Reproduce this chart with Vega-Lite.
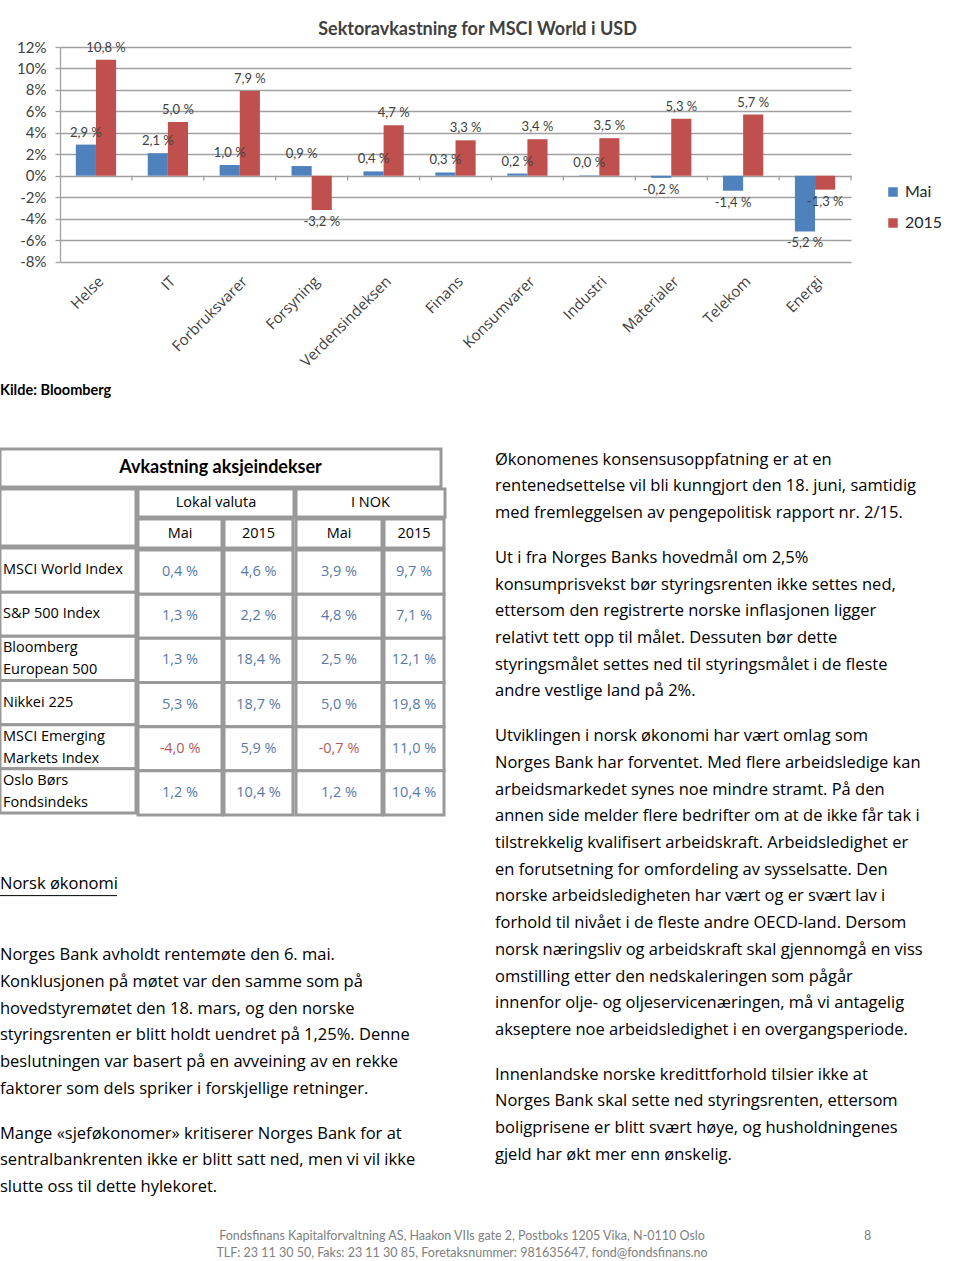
{
  "$schema": "https://vega.github.io/schema/vega-lite/v6.json",
  "background": "white",
  "padding": {"left": -2, "top": 21, "right": 0, "bottom": 0},
  "datasets": {
    "sek": [
      {"s": "Helse", "ser": "Mai", "v": 2.9, "l": "2,9 %"},
      {"s": "Helse", "ser": "2015", "v": 10.8, "l": "10,8 %"},
      {"s": "IT", "ser": "Mai", "v": 2.1, "l": "2,1 %"},
      {"s": "IT", "ser": "2015", "v": 5.0, "l": "5,0 %"},
      {"s": "Forbruksvarer", "ser": "Mai", "v": 1.0, "l": "1,0 %"},
      {"s": "Forbruksvarer", "ser": "2015", "v": 7.9, "l": "7,9 %"},
      {"s": "Forsyning", "ser": "Mai", "v": 0.9, "l": "0,9 %"},
      {"s": "Forsyning", "ser": "2015", "v": -3.2, "l": "-3,2 %"},
      {"s": "Verdensindeksen", "ser": "Mai", "v": 0.4, "l": "0,4 %"},
      {"s": "Verdensindeksen", "ser": "2015", "v": 4.7, "l": "4,7 %"},
      {"s": "Finans", "ser": "Mai", "v": 0.3, "l": "0,3 %"},
      {"s": "Finans", "ser": "2015", "v": 3.3, "l": "3,3 %"},
      {"s": "Konsumvarer", "ser": "Mai", "v": 0.2, "l": "0,2 %"},
      {"s": "Konsumvarer", "ser": "2015", "v": 3.4, "l": "3,4 %"},
      {"s": "Industri", "ser": "Mai", "v": 0.04, "l": "0,0 %"},
      {"s": "Industri", "ser": "2015", "v": 3.5, "l": "3,5 %"},
      {"s": "Materialer", "ser": "Mai", "v": -0.2, "l": "-0,2 %"},
      {"s": "Materialer", "ser": "2015", "v": 5.3, "l": "5,3 %"},
      {"s": "Telekom", "ser": "Mai", "v": -1.4, "l": "-1,4 %"},
      {"s": "Telekom", "ser": "2015", "v": 5.7, "l": "5,7 %"},
      {"s": "Energi", "ser": "Mai", "v": -5.2, "l": "-5,2 %"},
      {"s": "Energi", "ser": "2015", "v": -1.3, "l": "-1,3 %"}
    ],
    "tab": [
      {"r": 1, "c": "lm", "t": "0,4 %"}, {"r": 1, "c": "l2", "t": "4,6 %"}, {"r": 1, "c": "nm", "t": "3,9 %"}, {"r": 1, "c": "n2", "t": "9,7 %"},
      {"r": 2, "c": "lm", "t": "1,3 %"}, {"r": 2, "c": "l2", "t": "2,2 %"}, {"r": 2, "c": "nm", "t": "4,8 %"}, {"r": 2, "c": "n2", "t": "7,1 %"},
      {"r": 3, "c": "lm", "t": "1,3 %"}, {"r": 3, "c": "l2", "t": "18,4 %"}, {"r": 3, "c": "nm", "t": "2,5 %"}, {"r": 3, "c": "n2", "t": "12,1 %"},
      {"r": 4, "c": "lm", "t": "5,3 %"}, {"r": 4, "c": "l2", "t": "18,7 %"}, {"r": 4, "c": "nm", "t": "5,0 %"}, {"r": 4, "c": "n2", "t": "19,8 %"},
      {"r": 5, "c": "lm", "t": "-4,0 %"}, {"r": 5, "c": "l2", "t": "5,9 %"}, {"r": 5, "c": "nm", "t": "-0,7 %"}, {"r": 5, "c": "n2", "t": "11,0 %"},
      {"r": 6, "c": "lm", "t": "1,2 %"}, {"r": 6, "c": "l2", "t": "10,4 %"}, {"r": 6, "c": "nm", "t": "1,2 %"}, {"r": 6, "c": "n2", "t": "10,4 %"},
      {"r": 1, "c": "lab", "t": "MSCI World Index"},
      {"r": 2, "c": "lab", "t": "S&P 500 Index"},
      {"r": 3, "c": "lab", "t": "Bloomberg\nEuropean 500"},
      {"r": 4, "c": "lab", "t": "Nikkei 225"},
      {"r": 5, "c": "lab", "t": "MSCI Emerging\nMarkets Index"},
      {"r": 6, "c": "lab", "t": "Oslo Børs\nFondsindeks"}
    ],
    "body": [
      {"p": "K", "n": 1, "t": "Kilde: Bloomberg"},
      {"p": "H", "n": 1, "t": "Norsk økonomi"},
      {"p": "L1", "n": 1, "t": "Norges Bank avholdt rentemøte den 6. mai."},
      {"p": "L1", "n": 2, "t": "Konklusjonen på møtet var den samme som på"},
      {"p": "L1", "n": 3, "t": "hovedstyremøtet den 18. mars, og den norske"},
      {"p": "L1", "n": 4, "t": "styringsrenten er blitt holdt uendret på 1,25%. Denne"},
      {"p": "L1", "n": 5, "t": "beslutningen var basert på en avveining av en rekke"},
      {"p": "L1", "n": 6, "t": "faktorer som dels spriker i forskjellige retninger."},
      {"p": "L2", "n": 1, "t": "Mange «sjeføkonomer» kritiserer Norges Bank for at"},
      {"p": "L2", "n": 2, "t": "sentralbankrenten ikke er blitt satt ned, men vi vil ikke"},
      {"p": "L2", "n": 3, "t": "slutte oss til dette hylekoret."},
      {"p": "R1", "n": 1, "t": "Økonomenes konsensusoppfatning er at en"},
      {"p": "R1", "n": 2, "t": "rentenedsettelse vil bli kunngjort den 18. juni, samtidig"},
      {"p": "R1", "n": 3, "t": "med fremleggelsen av pengepolitisk rapport nr. 2/15."},
      {"p": "R2", "n": 1, "t": "Ut i fra Norges Banks hovedmål om 2,5%"},
      {"p": "R2", "n": 2, "t": "konsumprisvekst bør styringsrenten ikke settes ned,"},
      {"p": "R2", "n": 3, "t": "ettersom den registrerte norske inflasjonen  ligger"},
      {"p": "R2", "n": 4, "t": "relativt  tett opp til målet. Dessuten bør dette"},
      {"p": "R2", "n": 5, "t": "styringsmålet settes ned til styringsmålet i de fleste"},
      {"p": "R2", "n": 6, "t": "andre vestlige land på 2%."},
      {"p": "R3", "n": 1, "t": "Utviklingen i norsk økonomi har vært omlag som"},
      {"p": "R3", "n": 2, "t": "Norges Bank har forventet. Med flere arbeidsledige kan"},
      {"p": "R3", "n": 3, "t": "arbeidsmarkedet synes noe mindre stramt. På den"},
      {"p": "R3", "n": 4, "t": "annen side melder flere bedrifter om at de ikke får tak i"},
      {"p": "R3", "n": 5, "t": "tilstrekkelig kvalifisert arbeidskraft. Arbeidsledighet er"},
      {"p": "R3", "n": 6, "t": "en forutsetning for omfordeling av sysselsatte. Den"},
      {"p": "R3", "n": 7, "t": "norske arbeidsledigheten har vært og er svært lav i"},
      {"p": "R3", "n": 8, "t": "forhold til nivået i de fleste andre OECD-land. Dersom"},
      {"p": "R3", "n": 9, "t": "norsk næringsliv og arbeidskraft skal gjennomgå en viss"},
      {"p": "R3", "n": 10, "t": "omstilling etter den nedskaleringen som pågår"},
      {"p": "R3", "n": 11, "t": "innenfor olje- og oljeservicenæringen, må vi antagelig"},
      {"p": "R3", "n": 12, "t": "akseptere noe arbeidsledighet i en overgangsperiode."},
      {"p": "R4", "n": 1, "t": "Innenlandske norske kredittforhold tilsier ikke at"},
      {"p": "R4", "n": 2, "t": "Norges Bank skal sette ned styringsrenten, ettersom"},
      {"p": "R4", "n": 3, "t": "boligprisene er blitt svært høye, og husholdningenes"},
      {"p": "R4", "n": 4, "t": "gjeld har økt mer enn ønskelig."},
      {"p": "F", "n": 1, "t": "Fondsfinans Kapitalforvaltning AS, Haakon VIIs gate 2, Postboks 1205 Vika, N-0110 Oslo"},
      {"p": "F", "n": 2, "t": "TLF: 23 11 30 50, Faks: 23 11 30 85, Foretaksnummer: 981635647, fond@fondsfinans.no"},
      {"p": "PG", "n": 1, "t": "8"}
    ]
  },
  "spacing": 0,
  "vconcat": [
    {
      "spacing": 0,
      "hconcat": [
        {"width": 16, "height": 214.5, "data": {"values": [{"t": ""}]}, "mark": {"type": "text"}, "encoding": {"text": {"field": "t"}}},
        {
          "width": 791,
          "height": 214.5,
          "title": {"text": "Sektoravkastning for MSCI World i USD", "anchor": "middle", "frame": "group", "dx": 22, "offset": 1, "font": "Lato", "fontSize": 18, "fontWeight": "bold", "color": "#404040"},
          "data": {"name": "sek"},
          "encoding": {
            "x": {"field": "s", "type": "nominal", "sort": null, "scale": {"paddingInner": 0.44, "paddingOuter": 0.22},
                  "axis": {"title": null, "labelAngle": -45, "labelFont": "Open Sans", "labelFontSize": 15, "labelColor": "#404040", "ticks": false, "domain": false, "labelPadding": 12, "labelOverlap": false, "minExtent": 119, "maxExtent": 119}},
            "y": {"field": "v", "type": "quantitative", "scale": {"domain": [-8, 12], "nice": false},
                  "axis": {"title": null, "values": [-8, -6, -4, -2, 0, 2, 4, 6, 8, 10, 12], "labelExpr": "datum.value + '%'", "labelFont": "Lato", "labelFontSize": 15, "labelColor": "#404040", "gridColor": "#a0a0a0", "gridWidth": 1.3, "domainColor": "#a0a0a0", "domainWidth": 1.3, "tickColor": "#a0a0a0", "tickWidth": 1.3, "tickSize": 5, "labelPadding": 9, "minExtent": 40, "maxExtent": 40}}
          },
          "layer": [
            {
              "mark": {"type": "bar"},
              "encoding": {
                "xOffset": {"field": "ser", "type": "nominal", "sort": ["Mai", "2015"], "scale": {"paddingInner": 0, "paddingOuter": 0}},
                "color": {"field": "ser", "type": "nominal", "sort": ["Mai", "2015"], "scale": {"domain": ["Mai", "2015"], "range": ["#4f81bd", "#c0504d"]},
                          "legend": {"orient": "none", "legendX": 885, "legendY": 137, "title": null, "padding": 0, "labelFont": "Lato", "labelFontSize": 16, "labelColor": "#262626", "symbolType": "square", "symbolSize": 90, "symbolStrokeWidth": 0, "rowPadding": 15, "labelOffset": 4}}
              }
            },
            {
              "transform": [{"filter": "datum.ser == 'Mai'"}],
              "mark": {"type": "rule", "color": "#a0a0a0", "strokeWidth": 1.3},
              "encoding": {
                "x": {"field": "s", "type": "nominal", "sort": null, "bandPosition": 1.393},
                "y": {"datum": 0},
                "y2": {"datum": -0.45}
              }
            },
            {
              "transform": [{"filter": "datum.v >= 0"}],
              "mark": {"type": "text", "baseline": "bottom", "dy": -5, "font": "Lato", "fontSize": 13, "color": "#404040"},
              "encoding": {
                "xOffset": {"field": "ser", "type": "nominal", "sort": ["Mai", "2015"], "scale": {"paddingInner": 0, "paddingOuter": 0}},
                "text": {"field": "l"}
              }
            },
            {
              "transform": [{"filter": "datum.v < 0"}],
              "mark": {"type": "text", "baseline": "top", "dy": 6, "font": "Lato", "fontSize": 13, "color": "#404040"},
              "encoding": {
                "xOffset": {"field": "ser", "type": "nominal", "sort": ["Mai", "2015"], "scale": {"paddingInner": 0, "paddingOuter": 0}},
                "text": {"field": "l"}
              }
            }
          ]
        }
      ]
    },
    {
      "width": 441,
      "height": 66,
      "data": {"name": "body"},
      "transform": [{"filter": "datum.p == 'K'"}],
      "mark": {"type": "text", "align": "left", "baseline": "middle", "font": "Lato", "fontSize": 14.5, "fontWeight": "bold", "color": "#000000"},
      "encoding": {
        "x": {"datum": 0, "type": "quantitative", "scale": {"domain": [0, 1]}, "axis": null},
        "y": {"field": "n", "type": "ordinal", "axis": null, "bandPosition": 0.47, "scale": {"type": "band", "paddingInner": 0, "paddingOuter": 1.15, "align": 0}},
        "text": {"field": "t"}
      }
    },
    {
      "spacing": 48,
      "hconcat": [
        {
          "spacing": 17.3,
          "vconcat": [
            {
              "spacing": -8,
              "vconcat": [
                {"width": 441, "height": 38, "data": {"values": [{"t": "Avkastning aksjeindekser"}]},
                 "layer": [
                   {"mark": {"type": "rect", "fill": "white", "stroke": "#999999", "strokeWidth": 3}, "encoding": {}},
                   {"mark": {"type": "text", "font": "Lato", "fontSize": 18, "fontWeight": "bold", "color": "#000000"}, "encoding": {"text": {"field": "t"}}}
                 ]},
                {
                  "spacing": -10,
                  "hconcat": [
                    {
                      "spacing": -8,
                      "vconcat": [
                        {"width": 136, "height": 57, "data": {"values": [{"t": ""}]},
                         "layer": [
                           {"mark": {"type": "rect", "fill": "white", "stroke": "#999999", "strokeWidth": 3}, "encoding": {}}
                         ]},
                        {
                          "width": 136, "height": 265,
                          "data": {"name": "tab"},
                          "transform": [{"filter": "datum.c == 'lab'"}],
                          "encoding": {"y": {"field": "r", "type": "ordinal", "axis": null, "scale": {"type": "band", "paddingInner": 0, "paddingOuter": 0}}},
                          "layer": [
                            {"mark": {"type": "rect", "fill": "white", "stroke": "#999999", "strokeWidth": 3}},
                            {"transform": [{"filter": "indexof(datum.t, '\\n') < 0"}],
                             "mark": {"type": "text", "align": "left", "baseline": "middle", "dx": 3, "font": "Open Sans", "fontSize": 14.5, "color": "#000000"},
                             "encoding": {"x": {"datum": 0, "type": "quantitative", "scale": {"domain": [0, 1]}, "axis": null}, "y": {"field": "r", "type": "ordinal", "bandPosition": 0.5}, "text": {"field": "t"}}},
                            {"transform": [{"filter": "indexof(datum.t, '\\n') >= 0"}],
                             "mark": {"type": "text", "align": "left", "baseline": "middle", "dx": 3, "dy": -10, "lineBreak": "\n", "lineHeight": 22, "font": "Open Sans", "fontSize": 14.5, "color": "#000000"},
                             "encoding": {"x": {"datum": 0, "type": "quantitative", "scale": {"domain": [0, 1]}, "axis": null}, "y": {"field": "r", "type": "ordinal", "bandPosition": 0.5}, "text": {"field": "t"}}}
                          ]
                        }
                      ]
                    },
                    {
                      "spacing": -8,
                      "vconcat": [
                        {"width": 156, "height": 28, "data": {"values": [{"t": "Lokal valuta"}]},
                         "layer": [
                           {"mark": {"type": "rect", "fill": "white", "stroke": "#999999", "strokeWidth": 3}, "encoding": {}},
                           {"mark": {"type": "text", "font": "Open Sans", "fontSize": 14.5, "color": "#000000"}, "encoding": {"text": {"field": "t"}}}
                         ]},
                        {
                          "spacing": -10,
                          "hconcat": [
                            {
                              "spacing": -8,
                              "vconcat": [
                                {"width": 84, "height": 29, "data": {"values": [{"t": "Mai"}]},
                                 "layer": [
                                   {"mark": {"type": "rect", "fill": "white", "stroke": "#999999", "strokeWidth": 3}, "encoding": {}},
                                   {"mark": {"type": "text", "font": "Open Sans", "fontSize": 14.5, "color": "#000000"}, "encoding": {"text": {"field": "t"}}}
                                 ]},
                                {
                                  "width": 84, "height": 265,
                                  "data": {"name": "tab"},
                                  "transform": [{"filter": "datum.c == 'lm'"}],
                                  "encoding": {"y": {"field": "r", "type": "ordinal", "axis": null, "scale": {"type": "band", "paddingInner": 0, "paddingOuter": 0}}},
                                  "layer": [
                                    {"mark": {"type": "rect", "fill": "white", "stroke": "#999999", "strokeWidth": 3}},
                                    {"mark": {"type": "text", "baseline": "middle", "font": "Open Sans", "fontSize": 14.5},
                                     "encoding": {"y": {"field": "r", "type": "ordinal", "bandPosition": 0.5}, "text": {"field": "t"}, "color": {"condition": {"test": "indexof(datum.t, '-') == 0", "value": "#b55a5a"}, "value": "#5878a8"}}}
                                  ]
                                }
                              ]
                            },
                            {
                              "spacing": -8,
                              "vconcat": [
                                {"width": 69, "height": 29, "data": {"values": [{"t": "2015"}]},
                                 "layer": [
                                   {"mark": {"type": "rect", "fill": "white", "stroke": "#999999", "strokeWidth": 3}, "encoding": {}},
                                   {"mark": {"type": "text", "font": "Open Sans", "fontSize": 14.5, "color": "#000000"}, "encoding": {"text": {"field": "t"}}}
                                 ]},
                                {
                                  "width": 69, "height": 265,
                                  "data": {"name": "tab"},
                                  "transform": [{"filter": "datum.c == 'l2'"}],
                                  "encoding": {"y": {"field": "r", "type": "ordinal", "axis": null, "scale": {"type": "band", "paddingInner": 0, "paddingOuter": 0}}},
                                  "layer": [
                                    {"mark": {"type": "rect", "fill": "white", "stroke": "#999999", "strokeWidth": 3}},
                                    {"mark": {"type": "text", "baseline": "middle", "font": "Open Sans", "fontSize": 14.5},
                                     "encoding": {"y": {"field": "r", "type": "ordinal", "bandPosition": 0.5}, "text": {"field": "t"}, "color": {"condition": {"test": "indexof(datum.t, '-') == 0", "value": "#b55a5a"}, "value": "#5878a8"}}}
                                  ]
                                }
                              ]
                            }
                          ]
                        }
                      ]
                    },
                    {
                      "spacing": -8,
                      "vconcat": [
                        {"width": 149, "height": 28, "data": {"values": [{"t": "I NOK"}]},
                         "layer": [
                           {"mark": {"type": "rect", "fill": "white", "stroke": "#999999", "strokeWidth": 3}, "encoding": {}},
                           {"mark": {"type": "text", "font": "Open Sans", "fontSize": 14.5, "color": "#000000"}, "encoding": {"text": {"field": "t"}}}
                         ]},
                        {
                          "spacing": -10,
                          "hconcat": [
                            {
                              "spacing": -8,
                              "vconcat": [
                                {"width": 86, "height": 29, "data": {"values": [{"t": "Mai"}]},
                                 "layer": [
                                   {"mark": {"type": "rect", "fill": "white", "stroke": "#999999", "strokeWidth": 3}, "encoding": {}},
                                   {"mark": {"type": "text", "font": "Open Sans", "fontSize": 14.5, "color": "#000000"}, "encoding": {"text": {"field": "t"}}}
                                 ]},
                                {
                                  "width": 86, "height": 265,
                                  "data": {"name": "tab"},
                                  "transform": [{"filter": "datum.c == 'nm'"}],
                                  "encoding": {"y": {"field": "r", "type": "ordinal", "axis": null, "scale": {"type": "band", "paddingInner": 0, "paddingOuter": 0}}},
                                  "layer": [
                                    {"mark": {"type": "rect", "fill": "white", "stroke": "#999999", "strokeWidth": 3}},
                                    {"mark": {"type": "text", "baseline": "middle", "font": "Open Sans", "fontSize": 14.5},
                                     "encoding": {"y": {"field": "r", "type": "ordinal", "bandPosition": 0.5}, "text": {"field": "t"}, "color": {"condition": {"test": "indexof(datum.t, '-') == 0", "value": "#b55a5a"}, "value": "#5878a8"}}}
                                  ]
                                }
                              ]
                            },
                            {
                              "spacing": -8,
                              "vconcat": [
                                {"width": 60, "height": 29, "data": {"values": [{"t": "2015"}]},
                                 "layer": [
                                   {"mark": {"type": "rect", "fill": "white", "stroke": "#999999", "strokeWidth": 3}, "encoding": {}},
                                   {"mark": {"type": "text", "font": "Open Sans", "fontSize": 14.5, "color": "#000000"}, "encoding": {"text": {"field": "t"}}}
                                 ]},
                                {
                                  "width": 60, "height": 265,
                                  "data": {"name": "tab"},
                                  "transform": [{"filter": "datum.c == 'n2'"}],
                                  "encoding": {"y": {"field": "r", "type": "ordinal", "axis": null, "scale": {"type": "band", "paddingInner": 0, "paddingOuter": 0}}},
                                  "layer": [
                                    {"mark": {"type": "rect", "fill": "white", "stroke": "#999999", "strokeWidth": 3}},
                                    {"mark": {"type": "text", "baseline": "middle", "font": "Open Sans", "fontSize": 14.5},
                                     "encoding": {"y": {"field": "r", "type": "ordinal", "bandPosition": 0.5}, "text": {"field": "t"}, "color": {"condition": {"test": "indexof(datum.t, '-') == 0", "value": "#b55a5a"}, "value": "#5878a8"}}}
                                  ]
                                }
                              ]
                            }
                          ]
                        }
                      ]
                    }
                  ]
                }
              ]
            },
            {
              "width": 117,
              "height": 65.05,
              "data": {"name": "body"},
              "transform": [{"filter": "datum.p == 'H'"}],
              "encoding": {"y": {"field": "n", "type": "ordinal", "axis": null, "scale": {"type": "band", "paddingInner": 0, "paddingOuter": 0.718, "align": 1}}},
              "layer": [
                {"mark": {"type": "text", "align": "left", "baseline": "middle", "font": "Open Sans", "fontSize": 16.5, "color": "#000000"},
                 "encoding": {"x": {"datum": 0, "type": "quantitative", "scale": {"domain": [0, 1]}, "axis": null}, "y": {"field": "n", "type": "ordinal", "bandPosition": 0.44}, "text": {"field": "t"}}},
                {"mark": {"type": "rule", "color": "#000000", "strokeWidth": 1},
                 "encoding": {"y": {"field": "n", "type": "ordinal", "bandPosition": 0.86}}}
              ]
            },
            {
              "width": 441,
              "height": 187.2,
              "data": {"name": "body"},
              "transform": [{"filter": "datum.p == 'L1'"}],
              "mark": {"type": "text", "align": "left", "baseline": "middle", "font": "Open Sans", "fontSize": 16.5, "color": "#000000"},
              "encoding": {
                "x": {"datum": 0, "type": "quantitative", "scale": {"domain": [0, 1]}, "axis": null},
                "y": {"field": "n", "type": "ordinal", "axis": null, "bandPosition": 0.4, "scale": {"type": "band", "paddingInner": 0, "paddingOuter": 0.5056, "align": 1}},
                "text": {"field": "t"}
              }
            },
            {
              "width": 441,
              "height": 80.1,
              "data": {"name": "body"},
              "transform": [{"filter": "datum.p == 'L2'"}],
              "mark": {"type": "text", "align": "left", "baseline": "middle", "font": "Open Sans", "fontSize": 16.5, "color": "#000000"},
              "encoding": {
                "x": {"datum": 0, "type": "quantitative", "scale": {"domain": [0, 1]}, "axis": null},
                "y": {"field": "n", "type": "ordinal", "axis": null, "bandPosition": 0.4, "scale": {"type": "band", "paddingInner": 0, "paddingOuter": 0}},
                "text": {"field": "t"}
              }
            }
          ]
        },
        {
          "spacing": 17.3,
          "vconcat": [
            {
              "width": 465, "height": 80.1,
              "data": {"name": "body"},
              "transform": [{"filter": "datum.p == 'R1'"}],
              "mark": {"type": "text", "align": "left", "baseline": "middle", "font": "Open Sans", "fontSize": 16.5, "color": "#000000"},
              "encoding": {
                "x": {"datum": 0, "type": "quantitative", "scale": {"domain": [0, 1]}, "axis": null},
                "y": {"field": "n", "type": "ordinal", "axis": null, "bandPosition": 0.4, "scale": {"type": "band", "paddingInner": 0, "paddingOuter": 0}},
                "text": {"field": "t"}
              }
            },
            {
              "width": 465, "height": 160.2,
              "data": {"name": "body"},
              "transform": [{"filter": "datum.p == 'R2'"}],
              "mark": {"type": "text", "align": "left", "baseline": "middle", "font": "Open Sans", "fontSize": 16.5, "color": "#000000"},
              "encoding": {
                "x": {"datum": 0, "type": "quantitative", "scale": {"domain": [0, 1]}, "axis": null},
                "y": {"field": "n", "type": "ordinal", "axis": null, "bandPosition": 0.4, "scale": {"type": "band", "paddingInner": 0, "paddingOuter": 0}},
                "text": {"field": "t"}
              }
            },
            {
              "width": 465, "height": 320.4,
              "data": {"name": "body"},
              "transform": [{"filter": "datum.p == 'R3'"}],
              "mark": {"type": "text", "align": "left", "baseline": "middle", "font": "Open Sans", "fontSize": 16.5, "color": "#000000"},
              "encoding": {
                "x": {"datum": 0, "type": "quantitative", "scale": {"domain": [0, 1]}, "axis": null},
                "y": {"field": "n", "type": "ordinal", "axis": null, "bandPosition": 0.4, "scale": {"type": "band", "paddingInner": 0, "paddingOuter": 0}},
                "text": {"field": "t"}
              }
            },
            {
              "width": 465, "height": 106.8,
              "data": {"name": "body"},
              "transform": [{"filter": "datum.p == 'R4'"}],
              "mark": {"type": "text", "align": "left", "baseline": "middle", "font": "Open Sans", "fontSize": 16.5, "color": "#000000"},
              "encoding": {
                "x": {"datum": 0, "type": "quantitative", "scale": {"domain": [0, 1]}, "axis": null},
                "y": {"field": "n", "type": "ordinal", "axis": null, "bandPosition": 0.4, "scale": {"type": "band", "paddingInner": 0, "paddingOuter": 0}},
                "text": {"field": "t"}
              }
            }
          ]
        }
      ]
    },
    {
      "width": 924,
      "height": 61.3,
      "data": {"name": "body"},
      "encoding": {"y": {"field": "n", "type": "ordinal", "axis": null, "scale": {"type": "band", "paddingInner": 0, "paddingOuter": 0.803, "align": 1}}},
      "layer": [
        {"transform": [{"filter": "datum.p == 'F'"}],
         "mark": {"type": "text", "baseline": "middle", "font": "Lato", "fontSize": 12.5, "color": "#808080"},
         "encoding": {"y": {"field": "n", "type": "ordinal", "bandPosition": 0.3}, "text": {"field": "t"}}},
        {"transform": [{"filter": "datum.p == 'PG'"}],
         "mark": {"type": "text", "baseline": "middle", "font": "Lato", "fontSize": 12.5, "color": "#808080"},
         "encoding": {"x": {"datum": 0.939, "type": "quantitative", "scale": {"domain": [0, 1]}, "axis": null}, "y": {"field": "n", "type": "ordinal", "bandPosition": 0.3}, "text": {"field": "t"}}}
      ]
    }
  ],
  "config": {
    "view": {"stroke": null},
    "font": "Lato",
    "axis": {"labelFont": "Lato"},
    "legend": {"labelFont": "Lato"}
  }
}
